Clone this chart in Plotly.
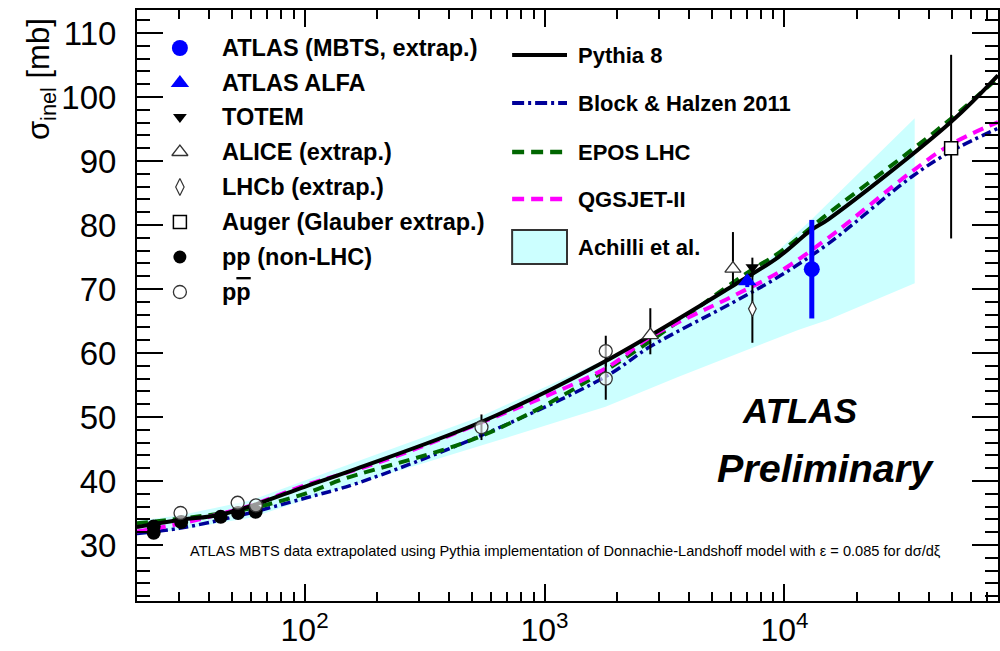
import plotly.graph_objects as go

# ---------------- data ----------------
# measurements: sqrt(s) [GeV], sigma_inel [mb]
mbts_E = [13000]; mbts_s = [73.1]; mbts_err = [7.7]
alfa_E = [7000]; alfa_s = [71.2]; alfa_err = [0.9]
totem_E = [7350]; totem_s = [73.4]; totem_err = [1.5]
alice_E = [2760, 6100]; alice_s = [62.8, 73.2]
alice_up = [4.2, 5.7]; alice_dn = [3.0, 2.9]
lhcb_E = [7350]; lhcb_s = [66.9]; lhcb_up = [5.3]; lhcb_dn = [5.3]
auger_E = [49500]; auger_s = [92.0]; auger_up = [14.6]; auger_dn = [14.1]
pp_E = [23.5, 23.5, 30.6, 44.7, 52.8, 62.5]
pp_s = [32.9, 31.9, 33.6, 34.4, 35.0, 35.2]
ppbar_E = [30.4, 52.6, 62.7, 546, 1800, 1800]
ppbar_s = [35.0, 36.6, 36.2, 48.4, 60.3, 56.0]
ppbar_err = [0, 0, 0, 2.0, 2.4, 3.3]

# model curves
pythia_E = [20, 30, 44, 61, 100, 164, 535, 1690, 6030, 9440, 12900, 15240, 49400, 77600]
pythia_s = [32.8, 33.9, 34.7, 36.2, 39.1, 41.9, 49.1, 58.2, 70.4, 75.0, 79.2, 80.9, 96.1, 103.4]
block_E = [20, 30, 52, 100, 164, 535, 1795, 2760, 6030, 9440, 15240, 33800, 49400, 77600]
block_s = [31.8, 32.6, 34.5, 37.3, 39.6, 47.0, 56.3, 61.0, 67.8, 71.9, 77.1, 87.5, 91.5, 95.1]
epos_E = [20, 30, 44, 61, 100, 145, 535, 1795, 7300, 9440, 15240, 33800, 49400, 77600]
epos_s = [33.4, 34.1, 34.9, 35.8, 38.0, 40.3, 46.9, 57.3, 73.0, 75.6, 81.8, 91.7, 96.6, 103.0]
qgs_E = [20, 30, 44, 61, 100, 200, 535, 1795, 2760, 6030, 9440, 15240, 33800, 49400, 77600]
qgs_s = [32.1, 33.3, 34.8, 36.3, 39.3, 42.8, 49.0, 57.6, 62.5, 68.8, 72.6, 78.0, 88.3, 92.6, 96.1]

# Achilli et al. band
ach_up_E = [20, 30, 60, 127, 535, 1795, 7000, 12900, 34900]
ach_up_s = [33.8, 34.6, 37.0, 41.5, 50.0, 59.0, 71.5, 80.8, 96.7]
ach_lo_E = [20, 30, 60, 127, 647, 1795, 3620, 11400, 15240, 34900]
ach_lo_s = [31.5, 32.4, 34.3, 38.3, 46.4, 51.6, 56.3, 63.6, 65.2, 70.9]

# axis ticks
x_major = [100, 1000, 10000]
x_major_text = ["10<sup>2</sup>", "10<sup>3</sup>", "10<sup>4</sup>"]
x_minor = [m * 10 ** k for k in (1, 2, 3, 4) for m in range(2, 10)
           if 20 < m * 10 ** k < 80000]
y_major = [30, 40, 50, 60, 70, 80, 90, 100, 110]
y_minor = [v for v in range(22, 114, 2) if v % 10 != 0]

FONT = "Liberation Sans, Arial, sans-serif"
BAND = "#ccffff"
NAVY = "#000099"
GREEN = "#006600"
MAG = "#ff00ff"
XR = [1.3015, 4.890]
YR = [21.25, 113.6]

fig = go.Figure()

# band
fig.add_trace(go.Scatter(
    x=ach_up_E + ach_lo_E[::-1], y=ach_up_s + ach_lo_s[::-1],
    fill="toself", fillcolor=BAND, line=dict(width=0), mode="lines",
    hoverinfo="skip", showlegend=False))

# curves
fig.add_trace(go.Scatter(x=block_E, y=block_s, mode="lines", line_shape="spline",
                         line=dict(color=NAVY, width=3.5, dash="10px,4px,3px,4px"), showlegend=False))
fig.add_trace(go.Scatter(x=epos_E, y=epos_s, mode="lines", line_shape="spline",
                         line=dict(color=GREEN, width=4, dash="11px,7px"), showlegend=False))
fig.add_trace(go.Scatter(x=qgs_E, y=qgs_s, mode="lines", line_shape="spline",
                         line=dict(color=MAG, width=4, dash="11px,7px"), showlegend=False))
fig.add_trace(go.Scatter(x=pythia_E, y=pythia_s, mode="lines", line_shape="spline",
                         line=dict(color="black", width=4), showlegend=False))

# data points
def err(arr, arrm=None, color="black", th=2):
    d = dict(type="data", array=arr, visible=True, color=color, thickness=th, width=0)
    if arrm is not None:
        d["symmetric"] = False
        d["arrayminus"] = arrm
    return d

fig.add_trace(go.Scatter(x=lhcb_E, y=lhcb_s, mode="markers",
                         error_y=err(lhcb_up, lhcb_dn),
                         marker=dict(symbol="diamond-tall", size=11, color="white",
                                     line=dict(color="#333333", width=1.2)), showlegend=False))
fig.add_trace(go.Scatter(x=totem_E, y=totem_s, mode="markers", error_y=err(totem_err),
                         marker=dict(symbol="triangle-down", size=12, color="black"), showlegend=False))
fig.add_trace(go.Scatter(x=alice_E, y=alice_s, mode="markers", error_y=err(alice_up, alice_dn),
                         marker=dict(symbol="triangle-up", size=14, color="white",
                                     line=dict(color="#333333", width=1.3)), showlegend=False))
fig.add_trace(go.Scatter(x=auger_E, y=auger_s, mode="markers", error_y=err(auger_up, auger_dn),
                         marker=dict(symbol="square", size=13, color="white",
                                     line=dict(color="black", width=1.5)), showlegend=False))
fig.add_trace(go.Scatter(x=pp_E, y=pp_s, mode="markers",
                         marker=dict(symbol="circle", size=14, color="black"), showlegend=False))
fig.add_trace(go.Scatter(x=ppbar_E, y=ppbar_s, mode="markers", error_y=err(ppbar_err),
                         marker=dict(symbol="circle", size=13, color="rgba(255,255,255,0.6)",
                                     line=dict(color="#333333", width=1.3)), showlegend=False))
fig.add_trace(go.Scatter(x=alfa_E, y=alfa_s, mode="markers", error_y=err(alfa_err, color="blue", th=4),
                         marker=dict(symbol="triangle-up", size=16, color="blue"), showlegend=False))
fig.add_trace(go.Scatter(x=mbts_E, y=mbts_s, mode="markers", error_y=err(mbts_err, color="blue", th=5),
                         marker=dict(symbol="circle", size=16, color="blue"), showlegend=False))

# empty traces that carry the tick-only axes
fig.add_trace(go.Scatter(x=[], y=[], xaxis="x3", yaxis="y3", showlegend=False, hoverinfo="skip"))
fig.add_trace(go.Scatter(x=[], y=[], xaxis="x3", yaxis="y4", showlegend=False, hoverinfo="skip"))

# ---------------- hand-made legend (pixel coords on an overlay axis) ----------------
leg_left = [
    ("ATLAS (MBTS, extrap.)", dict(symbol="circle", size=16, color="blue")),
    ("ATLAS ALFA", dict(symbol="triangle-up", size=16, color="blue")),
    ("TOTEM", dict(symbol="triangle-down", size=12, color="black")),
    ("ALICE (extrap.)", dict(symbol="triangle-up-open", size=14, color="#333333", line=dict(width=1.3))),
    ("LHCb (extrap.)", dict(symbol="diamond-tall-open", size=12, color="#333333", line=dict(width=1.2))),
    ("Auger (Glauber extrap.)", dict(symbol="square-open", size=13, color="black", line=dict(width=1.5))),
    ("pp (non-LHC)", dict(symbol="circle", size=13, color="black")),
    ("p<span style='text-decoration:overline'>p</span>", dict(symbol="circle-open", size=13, color="#333333", line=dict(width=1.3))),
]
left_rows = [48, 83, 117, 152, 187, 222, 257, 292]
for (lab, mk), yy in zip(leg_left, left_rows):
    fig.add_trace(go.Scatter(x=[180], y=[yy], mode="markers", marker=mk, xaxis="x2", yaxis="y2",
                             showlegend=False, hoverinfo="skip"))
    fig.add_annotation(x=220, y=yy, xref="x2", yref="y2", text=lab, showarrow=False,
                       xanchor="left", yanchor="middle",
                       font=dict(family=FONT, size=23.5, color="black", weight="bold"))

leg_right = [
    ("Pythia 8", dict(color="black", width=4, dash="solid")),
    ("Block & Halzen 2011", dict(color=NAVY, width=4, dash="12px,4px,3px,4px")),
    ("EPOS LHC", dict(color=GREEN, width=4.5, dash="12px,7px")),
    ("QGSJET-II", dict(color=MAG, width=4.5, dash="12px,7px")),
]
right_rows = [55, 103, 152, 199]
for (lab, ln), yy in zip(leg_right, right_rows):
    fig.add_shape(type="line", x0=513, x1=568, y0=yy, y1=yy, xref="x2", yref="y2", line=ln)
    fig.add_annotation(x=577, y=yy, xref="x2", yref="y2", text=lab, showarrow=False,
                       xanchor="left", yanchor="middle",
                       font=dict(family=FONT, size=22, color="black", weight="bold"))
fig.add_shape(type="rect", x0=513, x1=568, y0=230, y1=264, xref="x2", yref="y2",
              fillcolor=BAND, line=dict(color="#333333", width=2))
fig.add_annotation(x=577, y=247, xref="x2", yref="y2", text="Achilli et al.", showarrow=False,
                   xanchor="left", yanchor="middle",
                   font=dict(family=FONT, size=22, color="black", weight="bold"))

# texts
fig.add_annotation(x=801, y=410, xref="x2", yref="y2", text="ATLAS", showarrow=False,
                   font=dict(family=FONT, size=35, color="black", weight="bold", style="italic"))
fig.add_annotation(x=827, y=468, xref="x2", yref="y2", text="Preliminary", showarrow=False,
                   font=dict(family=FONT, size=39.5, color="black", weight="bold", style="italic"))
fig.add_annotation(x=566, y=551, xref="x2", yref="y2",
                   text="ATLAS MBTS data extrapolated using Pythia implementation of Donnachie-Landshoff model with ε = 0.085 for dσ/dξ",
                   showarrow=False, font=dict(family=FONT, size=14.6, color="black"))
fig.add_annotation(x=-0.112, y=0.989, xref="paper", yref="paper", text="σ<sub>inel</sub> [mb]",
                   showarrow=False, textangle=-90, xanchor="center", yanchor="top",
                   font=dict(family=FONT, size=31, color="black"))

tick_axis = dict(showgrid=False, zeroline=False, showline=False, mirror="ticks",
                 ticks="inside", tickwidth=1.5, tickcolor="black", tickmode="array",
                 showticklabels=False)

fig.update_layout(
    width=1000, height=651,
    margin=dict(l=137, r=0, t=10, b=50),
    paper_bgcolor="white", plot_bgcolor="white",
    showlegend=False,
    xaxis=dict(type="log", range=XR, showgrid=False, zeroline=False,
               showline=True, linecolor="black", linewidth=2, mirror="ticks",
               ticks="inside", ticklen=17, tickwidth=1.5, tickcolor="black",
               tickmode="array", tickvals=x_major, ticktext=x_major_text,
               tickfont=dict(family=FONT, size=32, color="black")),
    # labels of the y axis; its own ticks are transparent and only push the labels out
    yaxis=dict(range=YR, showgrid=False, zeroline=False,
               showline=True, linecolor="black", linewidth=2, mirror=True,
               ticks="outside", ticklen=12, tickcolor="rgba(0,0,0,0)",
               tickmode="array", tickvals=y_major,
               tickfont=dict(family=FONT, size=33, color="black")),
    xaxis2=dict(overlaying="x", range=[137, 1000], visible=False),
    yaxis2=dict(overlaying="y", range=[601, 10], visible=False),
    xaxis3=dict(overlaying="x", anchor="y3", type="log", range=XR, ticklen=9,
                tickvals=x_minor, **tick_axis),
    yaxis3=dict(overlaying="y", anchor="x3", range=YR, ticklen=13,
                tickvals=y_minor, **tick_axis),
    yaxis4=dict(overlaying="y", anchor="x3", range=YR, ticklen=26,
                tickvals=y_major, **tick_axis),
)

fig.write_html("out.html")
